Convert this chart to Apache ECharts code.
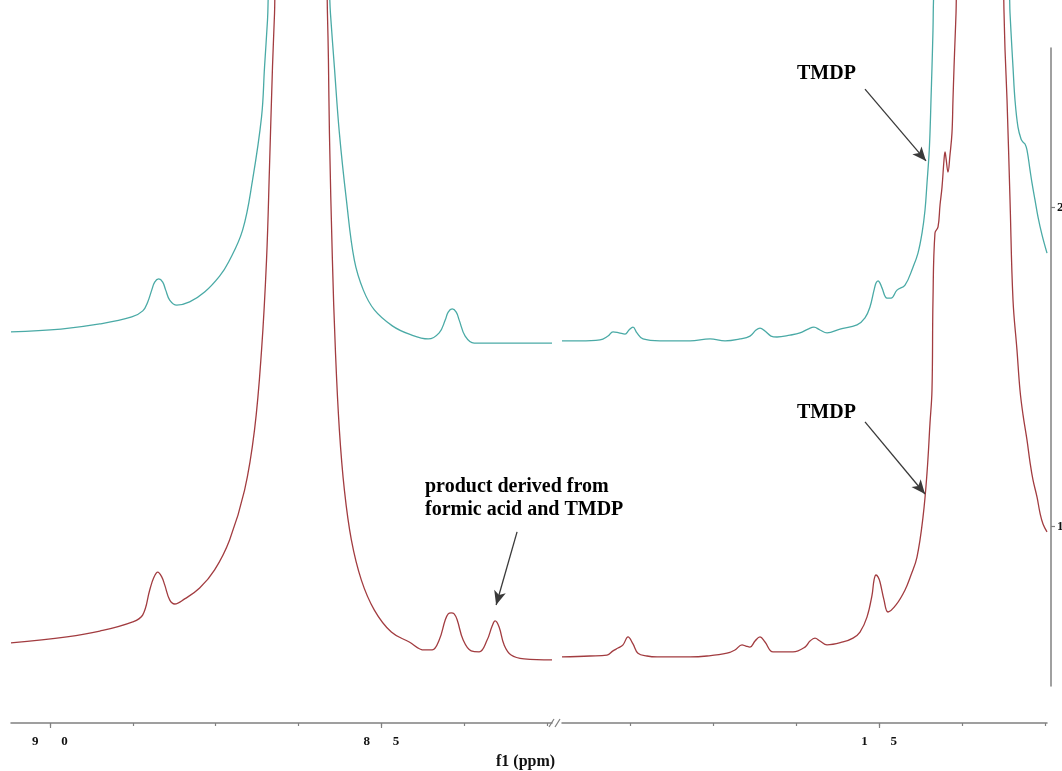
<!DOCTYPE html>
<html>
<head>
<meta charset="utf-8">
<title>31P NMR spectra</title>
<script src="https://cdn.jsdelivr.net/npm/echarts@6/dist/echarts.min.js"></script>
<style>
  html, body { margin: 0; padding: 0; background: #ffffff; }
  #chart { width: 1062px; height: 771px; }
</style>
</head>
<body>
<div id="chart"></div>
<script>
// Chemical shift (ppm) and intensity pairs for each trace, split at the axis break.
const tealLeft = [[90.587,1.610],[89.834,1.619],[89.247,1.635],[88.765,1.657],[88.599,1.676],[88.524,1.704],[88.464,1.741],[88.419,1.766],[88.358,1.776],[88.298,1.766],[88.253,1.741],[88.193,1.710],[88.087,1.694],[87.892,1.704],[87.666,1.735],[87.440,1.785],[87.304,1.829],[87.093,1.929],[86.943,2.086],[86.807,2.284],[86.762,2.440],[86.717,2.588],[86.687,2.713],[86.235,3.4],[85.798,2.713],[85.768,2.610],[85.708,2.440],[85.633,2.234],[85.527,2.024],[85.407,1.835],[85.271,1.741],[85.105,1.679],[84.834,1.629],[84.578,1.603],[84.292,1.588],[84.127,1.607],[84.036,1.647],[83.991,1.672],[83.931,1.682],[83.870,1.672],[83.825,1.647],[83.735,1.597],[83.599,1.575],[83.373,1.575],[82.922,1.575],[82.425,1.575]];
const tealRight = [[19.774,1.582],[19.503,1.582],[19.202,1.585],[19.081,1.597],[19.006,1.610],[18.916,1.607],[18.825,1.603],[18.765,1.616],[18.705,1.625],[18.645,1.607],[18.554,1.588],[18.298,1.582],[17.846,1.582],[17.545,1.588],[17.319,1.582],[17.093,1.588],[16.943,1.597],[16.852,1.616],[16.792,1.622],[16.717,1.613],[16.627,1.597],[16.536,1.594],[16.340,1.600],[16.190,1.607],[16.069,1.619],[15.979,1.625],[15.889,1.616],[15.783,1.607],[15.587,1.619],[15.331,1.632],[15.211,1.654],[15.136,1.688],[15.075,1.741],[15.045,1.763],[15.015,1.770],[14.985,1.763],[14.955,1.748],[14.880,1.716],[14.819,1.716],[14.729,1.741],[14.608,1.757],[14.488,1.813],[14.413,1.857],[14.352,1.920],[14.307,1.992],[14.277,2.077],[14.247,2.165],[14.232,2.234],[14.217,2.337],[14.202,2.440],[14.187,2.556],[14.172,2.682],[13.630,3.6],[13.042,2.682],[13.027,2.610],[12.997,2.494],[12.982,2.440],[12.952,2.337],[12.907,2.252],[12.861,2.215],[12.831,2.205],[12.801,2.199],[12.771,2.180],[12.726,2.118],[12.696,2.077],[12.651,2.024],[12.605,1.970],[12.545,1.914],[12.470,1.857]];
const redLeft = [[90.587,0.635],[89.744,0.654],[89.247,0.672],[88.750,0.701],[88.599,0.723],[88.494,0.801],[88.434,0.839],[88.373,0.857],[88.313,0.842],[88.268,0.817],[88.193,0.770],[88.117,0.757],[87.967,0.773],[87.741,0.807],[87.515,0.864],[87.289,0.958],[87.063,1.114],[86.913,1.303],[86.807,1.553],[86.732,1.835],[86.687,2.127],[86.642,2.440],[86.611,2.610],[86.596,2.713],[86.205,3.6],[85.828,2.713],[85.813,2.610],[85.798,2.462],[85.783,2.234],[85.738,1.835],[85.693,1.553],[85.633,1.303],[85.557,1.114],[85.452,0.958],[85.301,0.832],[85.105,0.738],[84.849,0.669],[84.578,0.638],[84.352,0.613],[84.232,0.613],[84.127,0.644],[84.036,0.707],[83.991,0.726],[83.946,0.729],[83.901,0.726],[83.855,0.707],[83.765,0.644],[83.645,0.610],[83.524,0.607],[83.404,0.644],[83.328,0.688],[83.283,0.704],[83.223,0.685],[83.148,0.629],[83.042,0.597],[82.846,0.585],[82.425,0.582]];
const redRight = [[19.774,0.591],[19.352,0.594],[19.096,0.597],[19.006,0.610],[18.931,0.619],[18.855,0.629],[18.780,0.654],[18.705,0.632],[18.630,0.603],[18.494,0.594],[18.343,0.591],[17.846,0.591],[17.590,0.594],[17.289,0.603],[17.169,0.613],[17.063,0.629],[17.003,0.625],[16.943,0.622],[16.867,0.641],[16.792,0.654],[16.717,0.638],[16.596,0.607],[16.295,0.607],[16.114,0.622],[16.039,0.641],[15.964,0.650],[15.889,0.641],[15.783,0.629],[15.542,0.638],[15.392,0.650],[15.286,0.669],[15.181,0.716],[15.105,0.785],[15.075,0.832],[15.045,0.848],[15.015,0.842],[14.985,0.826],[14.925,0.770],[14.864,0.732],[14.744,0.754],[14.608,0.801],[14.518,0.848],[14.428,0.904],[14.337,1.030],[14.277,1.168],[14.232,1.324],[14.202,1.428],[14.187,1.710],[14.157,1.920],[14.111,1.939],[14.081,2.008],[14.051,2.064],[14.021,2.149],[14.006,2.174],[13.991,2.155],[13.961,2.111],[13.931,2.165],[13.901,2.234],[13.886,2.337],[13.870,2.440],[13.855,2.525],[13.840,2.610],[13.825,2.713],[13.479,3.6],[13.133,2.713],[13.117,2.610],[13.102,2.494],[13.072,2.337],[13.027,2.024],[12.982,1.710],[12.922,1.553],[12.877,1.428],[12.831,1.350],[12.771,1.271],[12.726,1.202],[12.681,1.146],[12.620,1.092],[12.575,1.042],[12.530,1.008],[12.470,0.983]];

// Axis ticks and labels
const ticksLeft = [90, 88.75, 87.5, 86.25, 85, 83.75, 82.5];
const ticksRight = [18.75, 17.5, 16.25, 15, 13.75, 12.5];
const labelsLeft = [90, 85];
const labelsRight = [15];
const intensityTicks = [1, 2];

// Annotation arrows: [from, to] in (ppm, intensity)
const arrowProduct = [[82.952, 0.983], [83.268, 0.754]];
const arrowTmdpUpper = [[15.211, 2.371], [14.292, 2.146]];
const arrowTmdpLower = [[15.211, 1.328], [14.307, 1.102]];

const TEAL = '#4aaaa6';
const RED = '#a23c40';
const AXIS = '#808080';
const SERIF = '"Liberation Serif", "Times New Roman", serif';

const spaced = v => String(v).split('').join('       ');

const chart = echarts.init(document.getElementById('chart'), null, { renderer: 'canvas' });

const xRange = [
  { min: 82.425, max: 90.587 },
  { min: 12.470, max: 19.774 }
];

function mainX(gridIndex, ticks, labels) {
  return {
    gridIndex, type: 'value', inverse: true, position: 'bottom',
    min: xRange[gridIndex].min, max: xRange[gridIndex].max,
    axisLine: { show: true, onZero: false, lineStyle: { color: AXIS, width: 1.5 } },
    axisTick: { show: true, customValues: ticks, length: 3, lineStyle: { color: AXIS, width: 1.2 } },
    axisLabel: { show: true, customValues: labels, formatter: spaced, margin: 12,
      color: '#111', fontFamily: SERIF, fontSize: 13, fontWeight: 'bold' },
    splitLine: { show: false }
  };
}
function majorX(gridIndex, labels) {
  return {
    gridIndex, type: 'value', inverse: true, position: 'bottom',
    min: xRange[gridIndex].min, max: xRange[gridIndex].max,
    axisLine: { show: false, onZero: false },
    axisTick: { show: true, customValues: labels, length: 5, lineStyle: { color: AXIS, width: 1.2 } },
    axisLabel: { show: false },
    splitLine: { show: false }
  };
}
const hiddenY = gridIndex => ({
  gridIndex, type: 'value', show: false, min: 0.384, max: 2.6505,
  splitLine: { show: false }
});

function arrow(pair) {
  return [{ coord: pair[0], symbol: 'none' }, { coord: pair[1], symbol: 'arrow' }];
}
const arrowStyle = {
  silent: true, symbolSize: [9, 14], animation: false,
  lineStyle: { color: '#3a3a3a', width: 1.3, type: 'solid' },
  itemStyle: { color: '#1a1a1a' },
  label: { show: false }
};

function trace(data, xi, color, extra) {
  return Object.assign({
    type: 'line', xAxisIndex: xi, yAxisIndex: xi, data,
    smooth: 0.4, showSymbol: false, symbol: 'none', clip: true,
    lineStyle: { color, width: 1.3 }, silent: true
  }, extra || {});
}

chart.setOption({
  animation: false,
  backgroundColor: '#ffffff',
  grid: [
    { left: 11, top: 0, width: 541, height: 723, outerBoundsMode: 'none', containLabel: false },
    { left: 562, top: 0, width: 485, height: 723, outerBoundsMode: 'none', containLabel: false },
    { left: 1000, top: 48, width: 51, height: 638, outerBoundsMode: 'none', containLabel: false }
  ],
  xAxis: [
    mainX(0, ticksLeft, labelsLeft),
    mainX(1, ticksRight, labelsRight),
    majorX(0, labelsLeft),
    majorX(1, labelsRight),
    { gridIndex: 2, type: 'value', show: false, min: 0, max: 1 }
  ],
  yAxis: [
    hiddenY(0),
    hiddenY(1),
    {
      gridIndex: 2, type: 'value', position: 'right', min: 0.5, max: 2.5,
      axisLine: { show: true, onZero: false, lineStyle: { color: AXIS, width: 1.5 } },
      axisTick: { show: true, customValues: intensityTicks, length: 4, lineStyle: { color: AXIS, width: 1.2 } },
      axisLabel: { show: true, customValues: intensityTicks, margin: 6, color: '#111',
        fontFamily: SERIF, fontSize: 13, fontWeight: 'bold' },
      splitLine: { show: false }
    }
  ],
  series: [
    trace(tealLeft, 0, TEAL),
    trace(tealRight, 1, TEAL),
    trace(redLeft, 0, RED, {
      markLine: Object.assign({ data: [arrow(arrowProduct)] }, arrowStyle)
    }),
    trace(redRight, 1, RED, {
      markLine: Object.assign({ data: [arrow(arrowTmdpUpper), arrow(arrowTmdpLower)] }, arrowStyle)
    })
  ],
  graphic: [
    { type: 'text', left: 797, top: 64, style: { text: 'TMDP', font: 'bold 20px ' + SERIF, fill: '#000' } },
    { type: 'text', left: 797, top: 403, style: { text: 'TMDP', font: 'bold 20px ' + SERIF, fill: '#000' } },
    { type: 'text', left: 425, top: 475, style: {
        text: 'product derived from\nformic acid and TMDP', font: 'bold 20px ' + SERIF,
        lineHeight: 23, fill: '#000' } },
    { type: 'text', left: 496, top: 754, style: { text: 'f1 (ppm)', font: 'bold 16px ' + SERIF, fill: '#111' } },
    // break marks on the shift axis
    { type: 'line', shape: { x1: 549, y1: 727, x2: 554, y2: 719 }, style: { stroke: AXIS, lineWidth: 1.2 } },
    { type: 'line', shape: { x1: 555, y1: 727, x2: 560, y2: 719 }, style: { stroke: AXIS, lineWidth: 1.2 } }
  ]
});
</script>
</body>
</html>
